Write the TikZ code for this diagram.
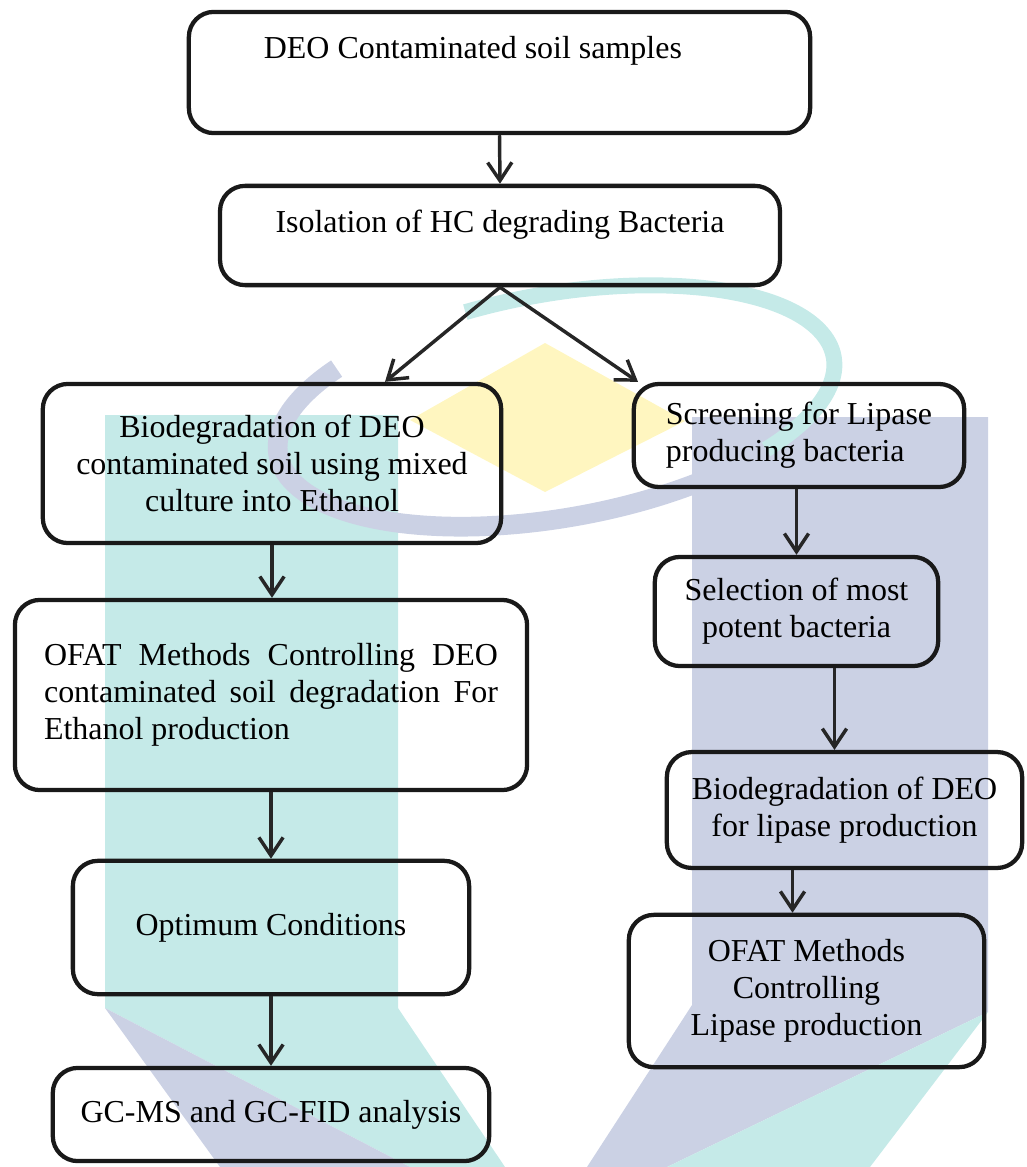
\documentclass[tikz,border=0pt]{standalone}
\usepackage{fontspec}
\setmainfont{Liberation Serif}
\usetikzlibrary{arrows.meta,calc}
\definecolor{umpTeal}{RGB}{197,234,232}
\definecolor{umpBlue}{RGB}{203,209,228}
\definecolor{umpYellow}{RGB}{255,246,192}
\tikzset{
    RB/.style ={rectangle, rounded corners=0.33cm, draw=black!90, line width=1.6pt, font=\fontsize{12}{13.9}\selectfont},
    AR/.style ={line width=1.3pt, draw=black!85, -{Straight Barb[length=2.4mm,width=3.2mm]}},
    WM/.style ={line cap=butt, shift={(556,406)}, rotate=10}}

\begin{document}
\begin{tikzpicture}[x=0.0132cm,y=-0.0132cm]
        \useasboundingbox (0,0) rectangle (1027,1167);
        \fill[umpTeal] (105,415) -- (398,415) -- (398,1008) -- (505,1167) -- (410,1167) -- (105,1008) -- cycle;
        \fill[umpBlue] (105,1008) -- (410,1167) -- (220,1167) -- cycle;
        \fill[umpBlue] (692,417) -- (988,417) -- (988,1012) -- (667,1167) -- (587,1167) -- (692,1005) -- cycle;
        \fill[umpTeal] (988,1012) -- (870,1167) -- (667,1167) -- cycle;
        \fill[umpYellow] (545,343) -- (685,421) -- (545,492) -- (410,420) -- cycle;
        \draw[WM,umpTeal,line width=0.21cm] (-105:282 and 112) arc[start angle=-105,end angle=45,x radius=282,y radius=112];
        \draw[WM,umpBlue,line width=0.26cm] (60:282 and 112) arc[start angle=60,end angle=222,x radius=282,y radius=112];

        \node[RB,minimum width=8.20cm,text width=6.22cm,align=flush left,inner ysep=0pt,text height=0.61cm,text depth=0.99cm] (deo) at (499.5,72.5) {DEO Contaminated soil samples};
        \node[RB,minimum width=7.39cm,inner ysep=0pt,text height=0.61cm,text depth=0.70cm] (iso) at (500,235.5) {Isolation of HC degrading Bacteria};
        \node[RB,minimum width=6.05cm,minimum height=2.10cm,align=center] (bioL) at (272,463.5) {Biodegradation of DEO\\contaminated soil using mixed\\culture into Ethanol};
        \node[RB,minimum width=4.36cm,minimum height=1.36cm,align=left] (scr) at (799,435.5) {Screening for Lipase\\producing bacteria};
        \node[RB,minimum width=6.76cm,minimum height=2.51cm,text width=5.99cm,align=justify] (ofatL) at (271,695) {OFAT Methods Controlling DEO\linebreak contaminated soil degradation For\linebreak Ethanol production};
        \node[RB,minimum width=3.74cm,minimum height=1.44cm,align=center] (sel) at (796.5,611.5) {Selection of most\\potent bacteria};
        \node[RB,minimum width=5.23cm,minimum height=1.76cm] (opt) at (271,927.5) {Optimum Conditions};
        \node[RB,minimum width=4.69cm,minimum height=1.53cm,align=center] (bioR) at (844.5,810) {Biodegradation of DEO\\for lipase production};
        \node[RB,minimum width=5.76cm,minimum height=1.23cm] (gc) at (271,1114.5) {GC-MS and GC-FID analysis};
        \node[RB,minimum width=4.69cm,minimum height=2.01cm,align=center] (ofatR) at (806.5,991) {OFAT Methods\\Controlling\\Lipase production};

        \draw[AR] (deo.south) -- (iso.north);
        \draw[AR] (iso.south) -- ($(bioL.north)+(113,0)$);
        \draw[AR] (iso.south) -- ($(scr.north)+(-161,0)$);
        \draw[AR] (bioL.south) -- (bioL.south |- ofatL.north);
        \draw[AR] (ofatL.south) -- (opt.north);
        \draw[AR] (opt.south) -- (gc.north);
        \draw[AR] (sel.north |- scr.south) -- (sel.north);
        \draw[AR] ($(bioR.north |- sel.south)+(-10,0)$) -- ($(bioR.north)+(-10,0)$);
        \draw[AR] ($(ofatR.north |- bioR.south)+(-14,0)$) -- ($(ofatR.north)+(-14,0)$);
\end{tikzpicture}
\end{document}
